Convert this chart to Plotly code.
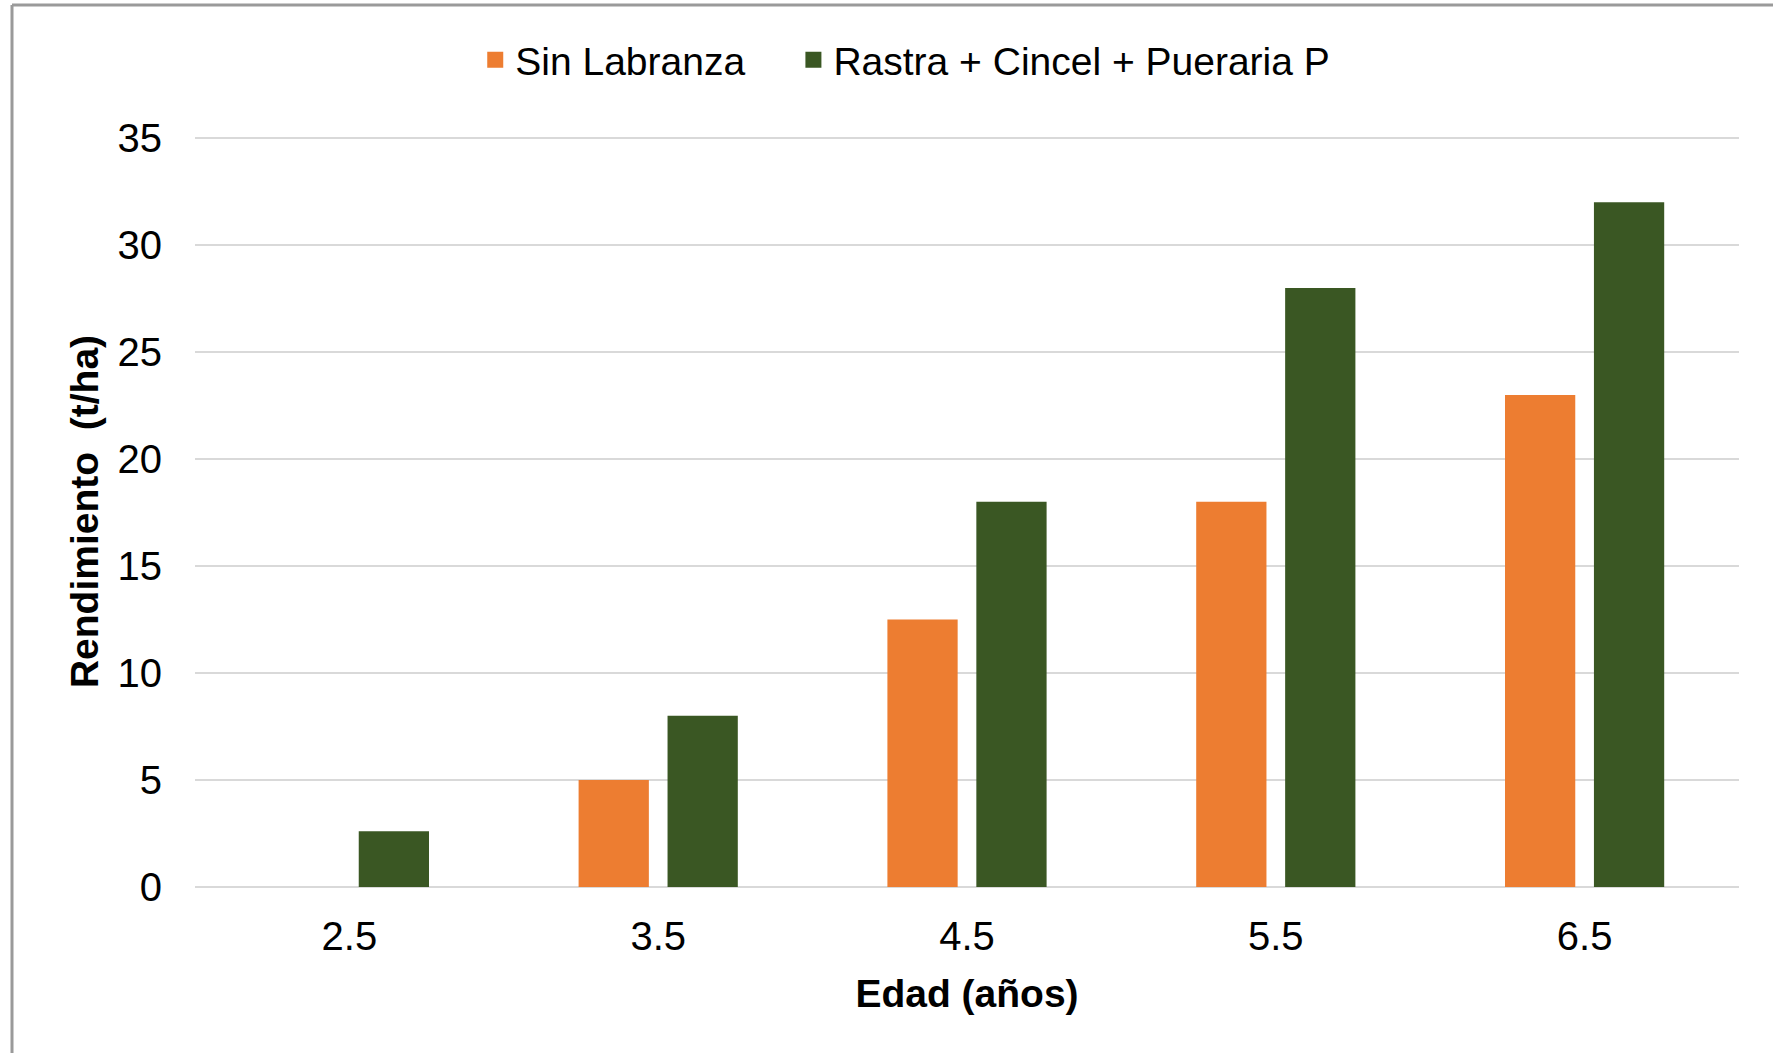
import plotly.graph_objects as go

edad = ["2.5", "3.5", "4.5", "5.5", "6.5"]
sin_labranza = [None, 5, 12.5, 18, 23]
rastra = [2.6, 8, 18, 28, 32]
y_ticks = [0, 5, 10, 15, 20, 25, 30, 35]
series_names = ["Sin Labranza", "Rastra + Cincel + Pueraria P"]
series_colors = ["#ED7D31", "#3A5723"]

FONT = "Liberation Sans, Arial, sans-serif"

fig = go.Figure()
for name, vals, col in zip(series_names, [sin_labranza, rastra], series_colors):
    fig.add_trace(go.Bar(name=name, x=edad, y=vals, showlegend=False,
                         marker=dict(color=col, line=dict(width=0))))
# legend entries with larger square symbols
legend_labels = [series_names[0] + "\u00a0" * 4, series_names[1]]
for name, col in zip(legend_labels, series_colors):
    fig.add_trace(go.Scatter(name=name, x=[edad[0]], y=[None], mode="markers",
                             marker=dict(symbol="square", size=20, color=col),
                             hoverinfo="skip"))

W, H = 1773, 1053
ymax = 35.1
ml, mr, mt, mb = 195, 34, 136, 166
pw, ph = W - ml - mr, H - mt - mb

fig.update_layout(
    width=W, height=H,
    margin=dict(l=ml, r=mr, t=mt, b=mb, pad=0),
    paper_bgcolor="white", plot_bgcolor="white",
    font=dict(family=FONT, size=39, color="black"),
    barmode="group", bargap=0.424, bargroupgap=0.21,
    showlegend=True,
    legend=dict(orientation="h", x=0.46, xanchor="center", y=1 + (mt - 60) / ph,
                yanchor="middle", font=dict(size=39), itemwidth=30,
                traceorder="normal", itemsizing="trace"),
    xaxis=dict(type="category", showgrid=False, showline=False, zeroline=False,
               ticks="", tickfont=dict(size=40), ticklabelstandoff=22,
               title=dict(text="<b>Edad (años)</b>", font=dict(size=39), standoff=22)),
    yaxis=dict(range=[0, ymax], tickvals=y_ticks, showgrid=True, gridcolor="#d9d9d9",
               gridwidth=2, zeroline=True, zerolinecolor="#d9d9d9", zerolinewidth=2,
               showline=False, ticks="", tickfont=dict(size=40), ticklabelstandoff=32,
               title=dict(text="<b>Rendimiento  (t/ha)</b>", font=dict(size=39), standoff=6)),
)

# outer frame (gray border at top and left)
x0 = (12 - ml) / pw
y0 = 1 + (mt - 5) / ph
fig.add_shape(type="line", xref="paper", yref="paper", x0=x0, x1=2, y0=y0, y1=y0,
              line=dict(color="#9a9a9a", width=3))
fig.add_shape(type="line", xref="paper", yref="paper", x0=x0, x1=x0, y0=y0, y1=-2,
              line=dict(color="#9a9a9a", width=3))

fig.write_html("out.html", config={"displayModeBar": False},
               post_script="document.body.style.margin='0';")
